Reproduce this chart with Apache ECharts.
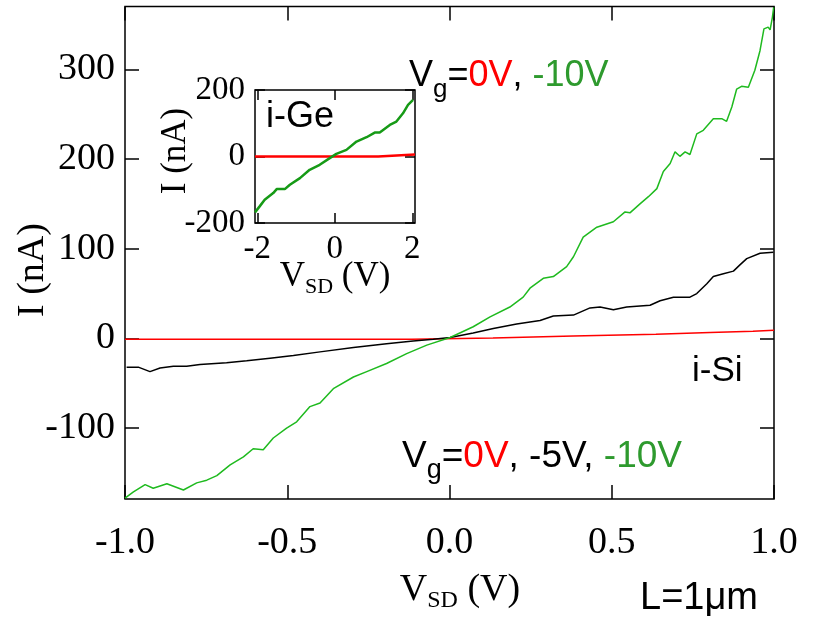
<!DOCTYPE html>
<html><head><meta charset="utf-8">
<script src="https://cdn.jsdelivr.net/npm/echarts@6/dist/echarts.min.js"></script>
<style>html,body{margin:0;padding:0;background:#fff}#c{width:821px;height:623px}</style>
</head><body><div id="c"></div>
<script>
// ---- main panel (i-Si) ----
const xTicksMain = [-1.0, -0.5, 0.0, 0.5, 1.0];
const yTicksMain = [-100, 0, 100, 200, 300];
const greenV = [-1.000,-0.974,-0.938,-0.913,-0.871,-0.820,-0.779,-0.748,-0.717,-0.676,-0.635,-0.605,-0.574,-0.543,-0.502,-0.471,-0.430,-0.399,-0.358,-0.296,-0.255,-0.194,-0.132,-0.070,0.002,0.073,0.125,0.186,0.227,0.248,0.289,0.320,0.361,0.382,0.412,0.454,0.505,0.541,0.556,0.587,0.613,0.639,0.659,0.680,0.695,0.710,0.726,0.741,0.762,0.782,0.813,0.839,0.854,0.870,0.885,0.900,0.921,0.941,0.957,0.969,0.982,0.988,0.995,0.999];
const greenI = [-178,-171,-163,-167,-162,-169,-161,-158,-153,-141,-132,-123,-124,-111,-100,-93,-76,-72,-56,-43,-37,-28,-17,-7.5,1,13,24,35,46,56,67,69,80,91,113,124,130,141,140,150,158,167,186,195,208,203,208,205,228,232,245,245,242,258,278,281,280,299,321,345,347,344,358,369];
const blackV = [-0.995,-0.959,-0.923,-0.892,-0.851,-0.810,-0.769,-0.687,-0.625,-0.553,-0.481,-0.399,-0.296,-0.194,-0.112,-0.050,0.002,0.073,0.135,0.207,0.279,0.320,0.382,0.433,0.464,0.505,0.546,0.618,0.649,0.690,0.741,0.762,0.793,0.813,0.844,0.875,0.895,0.916,0.957,0.998];
const blackI = [-32,-32,-37,-33,-31,-31,-29,-27,-25,-22,-19,-15,-10,-6,-3,-1,1,6,11,16,20,25,26,34,35,32,35,37,42,46,46,50,61,69,72,75,82,89,95,96];
const redV = [-1.0,-0.116,0.134,0.381,0.636,0.803,0.935,1.0];
const redI = [-1,0.6,2.8,4.7,6.6,8,9.2,9.2];
// ---- inset (i-Ge) ----
const xTicksInset = [-2, 0, 2];
const yTicksInset = [-200, 0, 200];
const insetGreenV = [-2.06,-1.94,-1.81,-1.59,-1.50,-1.29,-1.16,-0.90,-0.65,-0.39,-0.13,0.04,0.30,0.56,0.82,1.03,1.16,1.42,1.59,1.76,1.89,2.02];
const insetGreenI = [-168,-150,-130,-110,-98,-98,-85,-65,-40,-25,-5,8,20,45,58,72,72,95,105,130,155,170];
const insetRedV = [-2.06,1.12,2.07];
const insetRedI = [0,6,6];

const zip = (a,b)=>a.map((v,i)=>[v,b[i]]);
const SERIF = '"Liberation Serif","Times New Roman",serif';
const SANS = '"Liberation Sans",Arial,sans-serif';
const GREEN_TXT = '#2e9a2e';

function tickAxis(gi, pos, min, max, ticks, showLabel, fs, margin, fmt){
  return {type:'value', gridIndex:gi, position:pos, min:min, max:max,
    axisLine:{show:false, onZero:false}, splitLine:{show:false},
    axisTick:{show:true, inside:true, length: gi===0?14:10, customValues:ticks, lineStyle:{color:'#000',width:1.5}},
    axisLabel:{show:showLabel, customValues:ticks, fontFamily:SERIF, fontSize:fs, color:'#000', margin:margin, formatter:fmt}};
}

const chart = echarts.init(document.getElementById('c'), null, {renderer:'canvas'});
chart.setOption({
  animation:false,
  backgroundColor:'#fff',
  grid:[
    {left:125, top:6.5, width:649, height:492.5, show:true, borderColor:'#000', borderWidth:1.5, backgroundColor:'transparent'},
    {left:255, top:90, width:160, height:133, show:true, borderColor:'#000', borderWidth:1.5, backgroundColor:'#fff'}
  ],
  xAxis:[
    tickAxis(0,'bottom',-1,1,xTicksMain,true,38,25,v=>v.toFixed(1)),
    tickAxis(0,'top',-1,1,xTicksMain,false,38,0),
    tickAxis(1,'bottom',-2.06,2.07,xTicksInset,true,33,10,v=>String(v)),
    tickAxis(1,'top',-2.06,2.07,xTicksInset,false,33,0)
  ],
  yAxis:[
    tickAxis(0,'left',-179,370,yTicksMain,true,38,10,v=>String(v)),
    tickAxis(0,'right',-179,370,yTicksMain,false,38,0),
    tickAxis(1,'left',-200,200,yTicksInset,true,33,10,v=>String(v)),
    tickAxis(1,'right',-200,200,yTicksInset,false,33,0)
  ],
  series:[
    {type:'line', xAxisIndex:0, yAxisIndex:0, data:zip(redV,redI), step:'end', showSymbol:false, lineStyle:{color:'#ff0000',width:1.5}},
    {type:'line', xAxisIndex:0, yAxisIndex:0, data:zip(blackV,blackI), showSymbol:false, lineStyle:{color:'#000',width:1.5}},
    {type:'line', xAxisIndex:0, yAxisIndex:0, data:zip(greenV,greenI), showSymbol:false, lineStyle:{color:'#1fba1f',width:1.5}},
    {type:'line', xAxisIndex:2, yAxisIndex:2, data:zip(insetRedV,insetRedI), step:'end', showSymbol:false, lineStyle:{color:'#ff0000',width:2.5}},
    {type:'line', xAxisIndex:2, yAxisIndex:2, data:zip(insetGreenV,insetGreenI), showSymbol:false, lineStyle:{color:'#169a16',width:2.5}}
  ],
  graphic:[
    {type:'text', x:33, y:270, rotation:Math.PI/2, style:{text:'I (nA)', font:'38px '+SERIF, fill:'#000', align:'center', verticalAlign:'middle'}},
    {type:'text', x:176, y:151, rotation:Math.PI/2, style:{text:'I (nA)', font:'35px '+SERIF, fill:'#000', align:'center', verticalAlign:'middle'}},
    {type:'text', x:460, y:590, style:{text:'{v|V}{s|SD}{v| (V)}', align:'center', verticalAlign:'middle',
      rich:{v:{fontFamily:SERIF, fontSize:38, fill:'#000'}, s:{fontFamily:SERIF, fontSize:24, fill:'#000', padding:[22,0,0,0]}}}},
    {type:'text', x:335, y:277, style:{text:'{v|V}{s|SD}{v| (V)}', align:'center', verticalAlign:'middle',
      rich:{v:{fontFamily:SERIF, fontSize:35, fill:'#000'}, s:{fontFamily:SERIF, fontSize:22, fill:'#000', padding:[20,0,0,0]}}}},
    {type:'text', x:640, y:599, style:{text:'L=1μm', font:'38px '+SANS, fill:'#000', align:'left', verticalAlign:'middle'}},
    {type:'text', x:692, y:371, style:{text:'i-Si', font:'35px '+SANS, fill:'#000', align:'left', verticalAlign:'middle'}},
    {type:'text', x:266, y:117, style:{text:'i-Ge', font:'36px '+SANS, fill:'#000', align:'left', verticalAlign:'middle'}},
    {type:'text', x:409, y:76, style:{text:'{k|V}{g|g}{k|=}{r|0V}{k|, }{gr|-10V}', align:'left', verticalAlign:'middle',
      rich:{k:{fontFamily:SANS, fontSize:36, fill:'#000'}, g:{fontFamily:SANS, fontSize:26, fill:'#000', padding:[28,0,0,0]},
            r:{fontFamily:SANS, fontSize:36, fill:'#ff0000'}, gr:{fontFamily:SANS, fontSize:36, fill:GREEN_TXT}}}},
    {type:'text', x:402, y:457, style:{text:'{k|V}{g|g}{k|=}{r|0V}{k|, -5V, }{gr|-10V}', align:'left', verticalAlign:'middle',
      rich:{k:{fontFamily:SANS, fontSize:37, fill:'#000'}, g:{fontFamily:SANS, fontSize:27, fill:'#000', padding:[28,0,0,0]},
            r:{fontFamily:SANS, fontSize:37, fill:'#ff0000'}, gr:{fontFamily:SANS, fontSize:37, fill:GREEN_TXT}}}}
  ]
});
</script></body></html>
